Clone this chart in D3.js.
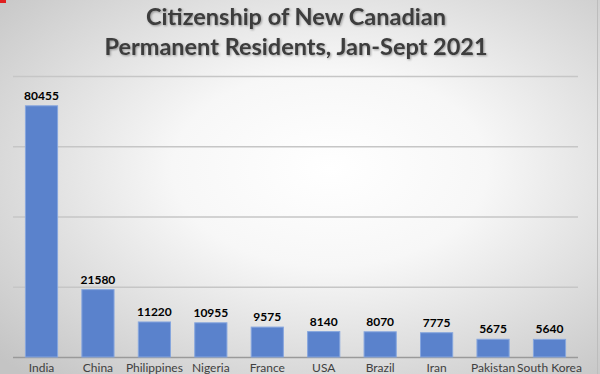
<!DOCTYPE html>
<html>
<head>
<meta charset="utf-8">
<script src="https://cdn.jsdelivr.net/npm/d3@7"></script>
<style>
  body { margin: 0; padding: 0; overflow: hidden; }
  svg { display: block; }
</style>
</head>
<body>
<div id="chart-area"></div>
<script>
// data
var countries = ["India", "China", "Philippines", "Nigeria", "France", "USA", "Brazil", "Iran", "Pakistan", "South Korea"];
var residents = [80455, 21580, 11220, 10955, 9575, 8140, 8070, 7775, 5675, 5640];
var gridValues = [0, 22500, 45000, 67500, 90000];
var titleLines = ["Citizenship of New Canadian", "Permanent Residents, Jan-Sept 2021"];

var W = 600, H = 374;
var margin = {top: 76, right: 22, bottom: 17, left: 13};
var width = W - margin.left - margin.right,
    height = H - margin.top - margin.bottom;

var svg = d3.select("#chart-area").append("svg")
    .attr("width", W)
    .attr("height", H);

// background gradient
var defs = svg.append("defs");
var grad = defs.append("radialGradient")
    .attr("id", "bg")
    .attr("cx", "0.55").attr("cy", "0.45").attr("r", "0.75");
grad.append("stop").attr("offset", "0%").attr("stop-color", "#ffffff");
grad.append("stop").attr("offset", "35%").attr("stop-color", "#f7f7f7");
grad.append("stop").attr("offset", "100%").attr("stop-color", "#c4c4c4");

var shadow = defs.append("filter").attr("id", "shadow")
    .attr("x", "-5%").attr("y", "-20%").attr("width", "110%").attr("height", "140%");
shadow.append("feDropShadow")
    .attr("dx", 1).attr("dy", 1).attr("stdDeviation", 0.8)
    .attr("flood-color", "#000").attr("flood-opacity", 0.35);

svg.append("rect")
    .attr("width", W).attr("height", H)
    .attr("fill", "url(#bg)");

// right edge border
svg.append("line")
    .attr("x1", 597.5).attr("x2", 597.5).attr("y1", 0).attr("y2", H)
    .attr("stroke", "#bdbdbd").attr("stroke-width", 1);

// little red mark in the corner
svg.append("rect")
    .attr("x", 0).attr("y", 0).attr("width", 6).attr("height", 3)
    .attr("fill", "#e02020");

// title
svg.append("g").selectAll("text")
    .data(titleLines)
    .enter().append("text")
    .attr("x", 296)
    .attr("y", function(d, i) { return 25 + i * 30; })
    .attr("text-anchor", "middle")
    .attr("font-family", "Lato, 'Open Sans', sans-serif")
    .attr("font-weight", "bold")
    .attr("font-size", "23.5px")
    .attr("fill", "#3c3c3c")
    .attr("filter", "url(#shadow)")
    .text(function(d) { return d; });

var g = svg.append("g")
    .attr("transform", "translate(" + margin.left + "," + margin.top + ")");

// Scales
var x = d3.scaleBand()
    .domain(countries)
    .range([0, width])
    .paddingInner(0.43)
    .paddingOuter(0.22);

var y = d3.scaleLinear()
    .domain([0, 90000])
    .range([height, 0]);

// gridlines (no labels on the value axis)
var yAxis = d3.axisLeft(y)
    .tickValues(gridValues)
    .tickSize(-width)
    .tickFormat("");

var gridGroup = g.append("g")
    .attr("class", "grid")
    .call(yAxis);
gridGroup.select(".domain").remove();
gridGroup.selectAll(".tick line")
    .attr("stroke", function(d) { return d === 0 ? "#9a9a9a" : "#c6c6c6"; })
    .attr("stroke-width", 1.5);

var data = countries.map(function(c, i) { return {country: c, value: residents[i]}; });

// bars
g.selectAll(".bar")
    .data(data)
    .enter().append("rect")
    .attr("class", "bar")
    .attr("x", function(d) { return x(d.country); })
    .attr("y", function(d) { return y(d.value); })
    .attr("width", x.bandwidth())
    .attr("height", function(d) { return height - y(d.value); })
    .attr("fill", "#5a82cc")
    .attr("stroke", "#86a6de")
    .attr("stroke-width", 1);

// value labels
g.selectAll(".value")
    .data(data)
    .enter().append("text")
    .attr("class", "value")
    .attr("x", function(d) { return x(d.country) + x.bandwidth() / 2; })
    .attr("y", function(d) { return y(d.value) - 6; })
    .attr("text-anchor", "middle")
    .attr("font-family", "Lato, 'Open Sans', sans-serif")
    .attr("font-weight", "bold")
    .attr("font-size", "12px")
    .attr("fill", "#000")
    .text(function(d) { return d.value; });

// category axis
var xAxis = d3.axisBottom(x).tickSize(0).tickPadding(6);
var xAxisGroup = g.append("g")
    .attr("class", "x-axis axis")
    .attr("transform", "translate(0," + height + ")")
    .call(xAxis);
xAxisGroup.select(".domain").remove();
xAxisGroup.selectAll("text")
    .attr("font-family", "Lato, 'Open Sans', sans-serif")
    .attr("font-size", "12px")
    .attr("fill", "#404040");
</script>
</body>
</html>
